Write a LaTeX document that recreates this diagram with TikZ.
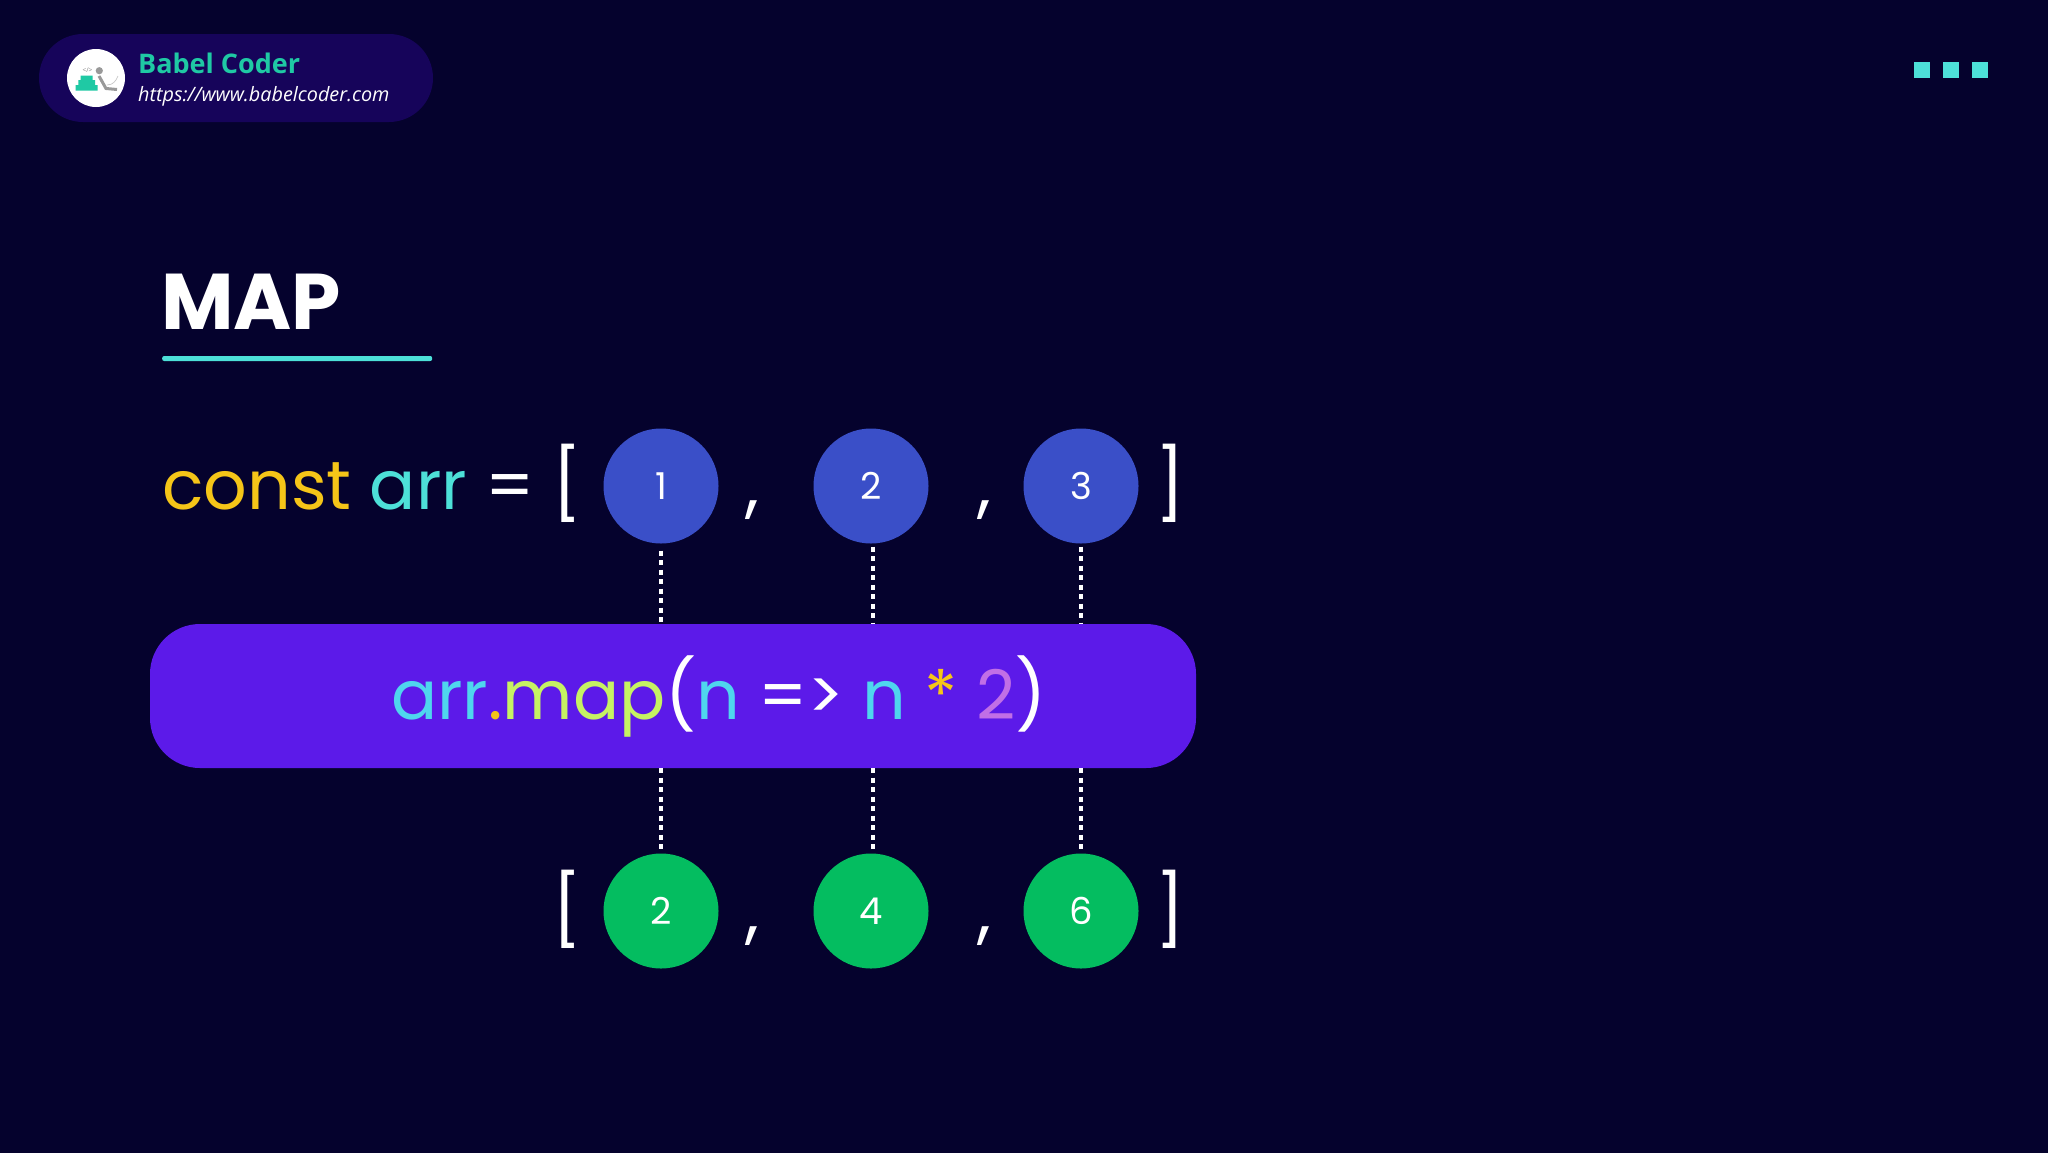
\documentclass[tikz,border=0pt]{standalone}
\usepackage{fontspec}
\setmainfont{Poppins}
\newfontfamily\opensans{Open Sans}
\usepackage{tikz}
\usetikzlibrary{arrows,positioning}
\definecolor{bg_dark}{HTML}{05022D}
\definecolor{bar_dark}{HTML}{16045A}
\definecolor{code_teal}{HTML}{4DE0D8}
\definecolor{code_cyan}{HTML}{4FD6EE}
\definecolor{code_yellow}{HTML}{F5C518}
\definecolor{code_lime}{HTML}{C6F263}
\definecolor{code_purple}{HTML}{C16FE6}
\definecolor{brand_green}{HTML}{1FC9A4}
\definecolor{pill_violet}{HTML}{5C1AE9}
\definecolor{num_blue}{HTML}{3A4FC8}
\definecolor{num_green}{HTML}{04BD60}
\tikzset{
	numnode/.style = {circle, inner sep=0pt, minimum size=115pt, white,
		font=\fontsize{37}{37}\selectfont},
	num_in/.style = {numnode, fill=num_blue},% input row
	num_out/.style = {numnode, fill=num_green},% output row
	codetext/.style = {inner sep=0pt, anchor=base west,
		font=\fontsize{68.3}{68}\selectfont},
	punct/.style = {inner sep=0pt, anchor=base, white,
		font=\fontsize{70}{70}\selectfont},
	dot_line/.style = {white, line width=4pt, dash pattern=on 5pt off 4.5pt},
	menu_sq/.style = {fill=code_teal, inner sep=0pt, minimum size=16pt}
}
\begin{document}
\begin{tikzpicture}[x=1pt,y=-1pt]
\useasboundingbox (0,0) rectangle (2048,1152);
\fill[bg_dark] (-2,-2) rectangle (2050,1154);
% header bar
\node [fill=bar_dark, rounded corners=44pt, minimum width=394pt, minimum height=88pt,
	inner sep=0pt] (head_bar) at (236,78) {};
\node [circle, fill=white, inner sep=0pt, minimum size=58pt] (logo) at (96,78) {};
\fill[brand_green] (80.7,75.5) rectangle (92.7,80.5) (78.3,80.2) rectangle (95,85.5) (75.7,85.2) rectangle (97.5,90.5);
\fill[gray!80] (99.3,70.7) circle (3.6pt);
\draw[gray!80, line width=3pt] (99,76) -- (106,88.5) -- (117,89.5);
\draw[gray!50, line width=.6pt] (107,85) .. controls (113,85) and (116,81) .. (118,76);
\node [gray, inner sep=0pt, font=\opensans\fontsize{6.5}{6.5}\selectfont] (logo_tag) at (87.5,70.5) {</>};
\node [inner sep=0pt, anchor=base west, brand_green,
	font=\opensans\bfseries\fontsize{27}{27}\selectfont] (brand) at (138,73) {Babel Coder};
\node [inner sep=0pt, anchor=base west, white,
	font=\opensans\itshape\fontsize{19.8}{20}\selectfont] (brand_url) at (138,101) {https://www.babelcoder.com};
% menu squares
\node [menu_sq] (sq_a) at (1922,70) {};
\node [menu_sq, right=12.8pt of sq_a] (sq_b) {};
\node [menu_sq, right=12.8pt of sq_b] (sq_c) {};
% title
\node [inner sep=0pt, anchor=base west, white,
	font=\bfseries\fontsize{79}{79}\selectfont] (title) at (161,329) {MAP};
\node [fill=code_teal, inner sep=0pt, rounded corners=2pt, minimum width=270pt, minimum height=5pt,
	anchor=west] (title_rule) at (162,358.5) {};
% input row
\node [codetext] (arr_def) at (162,509) {\textcolor{code_yellow}{const} \textcolor{code_teal}{arr} \textcolor{white}{=}};
\node [punct] (in_open) at (567,509) {[};
\node [num_in] (in_1) at (661,486) {1};
\node [num_in] (in_2) at (871,486) {2};
\node [num_in] (in_3) at (1081,486) {3};
\node [punct] (in_c1) at (752,509) {,};
\node [punct] (in_c2) at (984,509) {,};
\node [punct] (in_close) at (1170,509) {]};
% map call
\node [fill=pill_violet, rounded corners=50pt, minimum width=1046pt, minimum height=144pt,
	inner sep=0pt] (map_pill) at (673,696) {};
\node [codetext] (map_call) at (391,719)
	{\textcolor{code_cyan}{arr}\textcolor{code_yellow}{.}\textcolor{code_lime}{map}\textcolor{white}{(}\textcolor{code_cyan}{n} \textcolor{white}{=>} \textcolor{code_cyan}{n} \textcolor{code_yellow}{*} \textcolor{code_purple}{2}\textcolor{white}{)}};
% output row
\node [punct] (out_open) at (567,935) {[};
\node [num_out] (out_1) at (661,911) {2};
\node [num_out] (out_2) at (871,911) {4};
\node [num_out] (out_3) at (1081,911) {6};
\node [punct] (out_c1) at (752,935) {,};
\node [punct] (out_c2) at (984,935) {,};
\node [punct] (out_close) at (1170,935) {]};
% dotted connectors
\draw[dot_line, shorten <=7pt] (in_1.south) -- (in_1.south |- map_pill.north);
\draw[dot_line, shorten <=3pt] ([xshift=2pt]in_2.south) -- ([xshift=2pt]in_2.south |- map_pill.north);
\draw[dot_line, shorten <=3pt] (in_3.south) -- (in_3.south |- map_pill.north);
\draw[dot_line] (in_1.south |- map_pill.south) -- (out_1.north);
\draw[dot_line] ([xshift=2pt]out_2.north |- map_pill.south) -- ([xshift=2pt]out_2.north);
\draw[dot_line] (out_3.north |- map_pill.south) -- (out_3.north);
\end{tikzpicture}
\end{document}
